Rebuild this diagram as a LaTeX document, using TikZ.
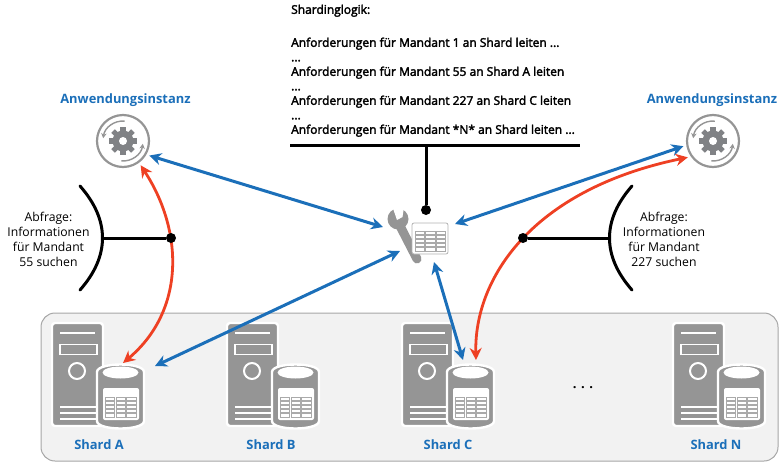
\documentclass[tikz,border=0pt]{standalone}
\usepackage{fontspec}
\setmainfont{Open Sans}
\usetikzlibrary{arrows.meta}

\definecolor{shardblue}{HTML}{1B6FB9}
\definecolor{shardred}{HTML}{EE4023}
\definecolor{servergray}{HTML}{959595}
\definecolor{geargray}{HTML}{808285}

\tikzset{
	bluearrow/.style={draw=shardblue,line width=3pt,{Stealth[length=12pt,width=12pt]}-{Stealth[length=12pt,width=12pt]}},
	redarrow/.style={draw=shardred,line width=2.8pt,{Stealth[length=12pt,width=12pt]}-{Stealth[length=12pt,width=12pt]}},
	blackline/.style={draw=black,line width=3pt},
	blackdot/.style={circle,fill=black,minimum size=10pt,inner sep=0pt},
	appring/.style={circle,draw=servergray,line width=2.2pt,minimum size=52pt,inner sep=0pt,outer sep=4pt},
	spinarrow/.style={draw=servergray,line width=1.4pt,-{Stealth[length=5pt,width=5.5pt]}},
	dbbox/.style={minimum width=47pt,minimum height=63pt,inner sep=0pt,outer sep=5pt},
	bluelabel/.style={text=shardblue,font=\bfseries\fontsize{12.9}{15}\selectfont},
	querytext/.style={align=center,font=\fontsize{12.2}{15}\selectfont},
	logictext/.style={align=left,anchor=north west,inner sep=0pt,font=\fontsize{12}{14.5}\selectfont}
}

% small table, upper left corner at #1,#2
\newcommand{\cellgrid}[2]{
	\foreach \c in {0,1,2}
	\foreach \r in {0,1,2,3,4}
	\draw[servergray!80,line width=0.9pt] ({#1+\c*10.6},{#2+\r*4.2}) rectangle ++(9.4,3.2);
}

\begin{document}
\begin{tikzpicture}[x=1pt,y=-1pt]
			\useasboundingbox (0,0) rectangle (780,464);

			\draw[fill=black!5,draw=black!35,line width=1pt,rounded corners=14pt] (41,313) rectangle (778,461);

			% the four shards
			\foreach \x/\name in {0/A,175/B,350/C,621/N} {
			\begin{scope}[shift={(\x,0)}]
				\draw[fill=servergray,draw=white,line width=2.4pt,rounded corners=3pt] (52,323) rectangle (103,426);
				\draw[white,line width=1.8pt] (60,333) -- (95,333);
				\draw[white,line width=1.8pt] (60,344.5) rectangle (97,354.5);
				\draw[white,line width=2pt] (77,371) circle (8);
				\foreach \y in {407,413,419}
				\draw[white,line width=1.8pt] (60,\y) -- (97,\y);
				\draw[fill=servergray,draw=white,line width=2.4pt] (97,372) .. controls (97,362) and (144,362) .. (144,372) -- (144,421) .. controls (144,431) and (97,431) .. (97,421) -- cycle;
				\fill[white] (120.5,372.5) ellipse (18 and 6);
				\fill[white,rounded corners=2pt] (103,388) rectangle (139,420);
				\cellgrid{105.5}{397}
				\node[dbbox] (db\name) at (120.5,396.5) {};
			\end{scope}
			}

			\node[bluelabel] (labelA) at (99,445) {Shard A};
			\node[bluelabel] (labelB) at (271,445) {Shard B};
			\node[bluelabel] (labelC) at (448,445) {Shard C};
			\node[bluelabel] (labelN) at (716,445) {Shard N};
			\node[font=\bfseries\fontsize{13}{15}\selectfont] (moredots) at (583,388) {. . .};

			% application instances
			\node[appring] (appL) at (123,141) {};
			\node[appring] (appR) at (713,141) {};
			\foreach \cx in {123,713} {
			\begin{scope}[shift={(\cx,141)}]
				\fill[geargray] (0,0) circle (10.5);
				\foreach \a in {0,45,...,315}
				\fill[geargray,rotate=\a] (-2.6,-14) rectangle (2.6,0);
				\fill[white] (0,0) circle (4);
				\draw[spinarrow] (0,0) ++(-85:20) arc[start angle=-85,end angle=-172,radius=20];
				\draw[spinarrow] (0,0) ++(95:20) arc[start angle=95,end angle=8,radius=20];
			\end{scope}
			}
			\node[bluelabel] (titleL) at (125.5,100) {Anwendungsinstanz};
			\node[bluelabel] (titleR) at (712,100) {Anwendungsinstanz};

			% sharding logic text
			\node[logictext] (logic) at (291,4.5) {\special{pdf:code 2 Tr 0.3 w}Shardinglogik:\\[4pt]
				\\
				Anforderungen für Mandant 1 an Shard leiten ...\\
				...\\
				Anforderungen für Mandant 55 an Shard A leiten\\
				...\\
				Anforderungen für Mandant 227 an Shard C leiten\\
				...\\
				Anforderungen für Mandant *N* an Shard leiten ...\special{pdf:code 0 Tr 1 w}};
			\coordinate (barL) at (290,145);
			\coordinate (barR) at (580,145);
			\coordinate (barM) at (426,145);
			\draw[blackline] (barL) -- (barR);

			% wrench and table
			\draw[servergray,line width=9pt,line cap=round] (398,222) -- (417,259);
			\fill[servergray] (398,219) circle (10.5);
			\fill[white] (392.5,207) -- (404,207) -- (402.5,217) -- (397,220) -- cycle;
			\draw[fill=white,draw=black!30,line width=0.8pt,rounded corners=2pt] (412,223) rectangle (448,254);
			\cellgrid{415}{231}
			\coordinate (toolW) at (383,227);
			\coordinate (toolE) at (455,224);
			\coordinate (toolSW) at (400,251);
			\coordinate (toolS) at (434,262);

			\node[blackdot] (logicdot) at (426,210) {};
			\draw[blackline] (barM) -- (logicdot);

			% arrows
			\draw[bluearrow] (appL.-29) -- (toolW);
			\draw[bluearrow] (appR.190) -- (toolE);
			\draw[bluearrow] ([shift={(6pt,-6pt)}]dbA.north east) -- (toolSW);
			\draw[bluearrow] ([xshift=-7.5pt]dbC.north) -- (toolS);
			\draw[redarrow] ([xshift=2.5pt,yshift=-3pt]dbA.north) .. controls (186,310) and (183,230) .. (appL.-54);
			\draw[redarrow] ([xshift=5.5pt]dbC.north) .. controls (474,280) and (530,190) .. (appR.213);

			% query left
			\coordinate (arcLa) at (80,186);
			\coordinate (arcLb) at (80,290);
			\coordinate (arcLm) at (102.5,238);
			\node[blackdot] (dotL) at (171,238) {};
			\draw[blackline,line cap=round] (arcLa) .. controls (110,220) and (110,256) .. (arcLb);
			\draw[blackline] (arcLm) -- (dotL);
			\node[querytext] (queryL) at (48.5,239) {Abfrage:\\Informationen\\für Mandant\\55 suchen};

			% query right
			\coordinate (arcRa) at (632,186);
			\coordinate (arcRb) at (632,290);
			\coordinate (arcRm) at (609.5,238);
			\node[blackdot] (dotR) at (523,238) {};
			\draw[blackline,line cap=round] (arcRa) .. controls (602,220) and (602,256) .. (arcRb);
			\draw[blackline] (arcRm) -- (dotR);
			\node[querytext] (queryR) at (664,239) {Abfrage:\\Informationen\\für Mandant\\227 suchen};
\end{tikzpicture}
\end{document}
